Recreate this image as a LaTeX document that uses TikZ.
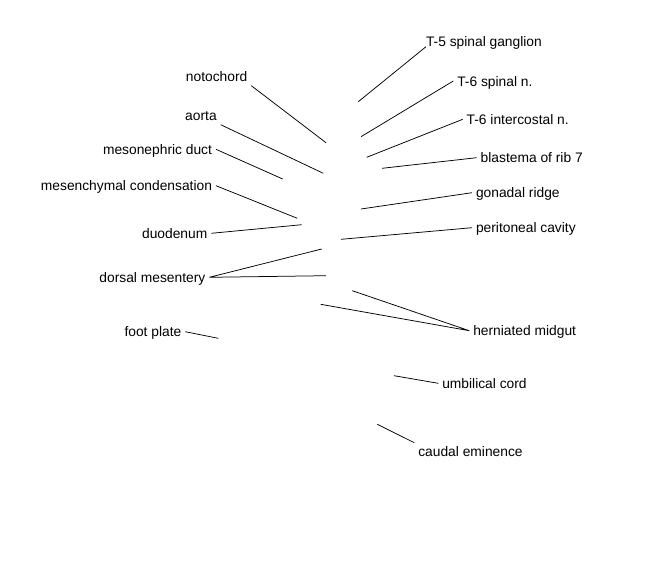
\documentclass[tikz,border=0pt]{standalone}
\usepackage{fontspec}
\setmainfont{Liberation Sans}

\begin{document}
\begin{tikzpicture}[
        x=1pt, y=-1pt,
        partlabel/.style={
            font=\fontsize{13.8}{16}\selectfont,
            inner sep=2pt, outer sep=2pt,
            text height=10pt, text depth=0pt,
          },
        leader/.style={line width=0.75pt}
        ]
        \useasboundingbox (0,0) rectangle (648,576);
        % points on the section
        \coordinate(p1) at (326, 142.7);
        \coordinate(p2) at (323.3, 173.3);
        \coordinate(p3) at (282.7, 179);
        \coordinate(p4) at (297.3, 218.3);
        \coordinate(p5) at (301.7, 224.7);
        \coordinate(p6) at (321.7, 249);
        \coordinate(p7) at (326, 275.7);
        \coordinate(p8) at (218.3, 338.3);
        \coordinate(q1) at (358.3, 101.7);
        \coordinate(q2) at (361, 136.7);
        \coordinate(q3) at (366.7, 157.3);
        \coordinate(q4) at (382, 168.3);
        \coordinate(q5) at (361, 209);
        \coordinate(q6) at (341, 239.3);
        \coordinate(q7) at (352.3, 290.7);
        \coordinate(q8) at (320.7, 304.3);
        \coordinate(q9) at (394, 375.7);
        \coordinate(q10) at (377.3, 424.3);
        % labels
        \node[partlabel, anchor=east](noto) at (251.3, 76.7) {notochord};
        \node[partlabel, anchor=east](aorta) at (220.7, 115.7) {aorta};
        \node[partlabel, anchor=east](mduct) at (216, 149.3) {mesonephric duct};
        \node[partlabel, anchor=east](mcond) at (216, 185.7) {mesenchymal condensation};
        \node[partlabel, anchor=east](duod) at (211.3, 233.3) {duodenum};
        \node[partlabel, anchor=east](dmes) at (209.3, 277.3) {dorsal mesentery};
        \node[partlabel, anchor=east](foot) at (185.3, 331.7) {foot plate};
        \node[partlabel, anchor=west](gang) at (422, 41.7) {T-5 spinal ganglion};
        \node[partlabel, anchor=west](spin) at (453.3, 81) {T-6 spinal n.};
        \node[partlabel, anchor=west](icost) at (462.7, 119.3) {T-6 intercostal n.};
        \node[partlabel, anchor=west](rib) at (476.7, 157.7) {blastema of rib 7};
        \node[partlabel, anchor=west](gonad) at (472, 192.7) {gonadal ridge};
        \node[partlabel, anchor=west](perit) at (472, 227.7) {peritoneal cavity};
        \node[partlabel, anchor=west](midgut) at (469.3, 330.7) {herniated midgut};
        \node[partlabel, anchor=west](umb) at (438.3, 383.3) {umbilical cord};
        \node[partlabel, anchor=west](caud) at (414.3, 451.7) {caudal eminence};
        % leaders
        \draw[leader]
            (noto.south east) -- (p1)
            (aorta.south east) -- (p2)
            (mduct.east) -- (p3)
            (mcond.east) -- (p4)
            (duod.east) -- (p5)
            (dmes.east) -- (p6)
            (dmes.east) -- (p7)
            (foot.east) -- (p8)
            (gang.text) -- (q1)
            (spin.west) -- (q2)
            (icost.west) -- (q3)
            (rib.west) -- (q4)
            (gonad.west) -- (q5)
            (perit.west) -- (q6)
            (midgut.west) -- (q7)
            (midgut.west) -- (q8)
            (umb.west) -- (q9)
            (caud.north west) -- (q10);
    \end{tikzpicture}
\end{document}
